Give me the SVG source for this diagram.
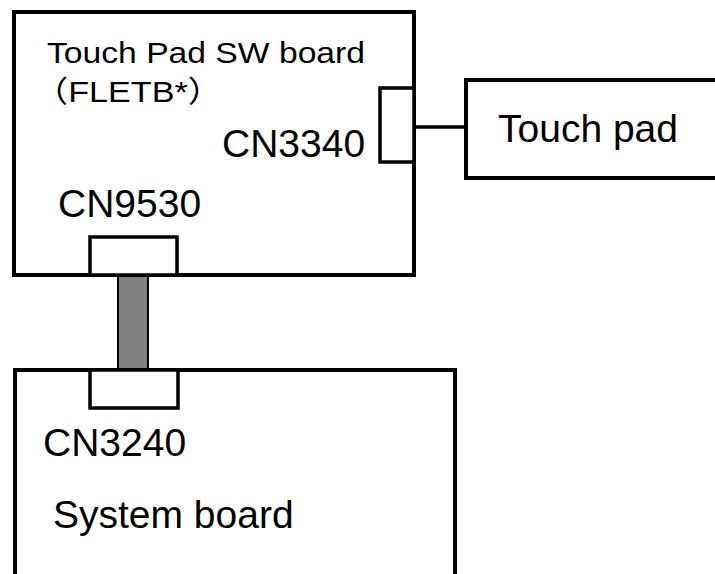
<svg xmlns="http://www.w3.org/2000/svg" width="715" height="574" viewBox="0 0 715 574">
<style>
.box{fill:#fff;stroke:#000;stroke-width:4}
.con{fill:#fff;stroke:#000;stroke-width:3.5}
.t{font-family:"Liberation Sans",Arial,"Noto Sans CJK JP",sans-serif;fill:#000}
</style>
<rect width="715" height="574" fill="#fff"/>
<g id="touchpad-sw-board">
<rect class="box" x="14" y="12" width="400" height="263"/>
<text class="t" x="47" y="63" font-size="30" textLength="318" lengthAdjust="spacingAndGlyphs">Touch Pad SW board</text>
<text class="t" x="34" y="102" font-size="30" textLength="188" lengthAdjust="spacingAndGlyphs">（FLETB*）</text>
</g>
<g id="cn3340">
<rect class="con" x="380" y="88" width="34" height="74"/>
<text class="t" x="222" y="157" font-size="39">CN3340</text>
</g>
<g id="cn9530">
<rect class="con" x="90" y="237" width="87" height="38"/>
<text class="t" x="58" y="217" font-size="39">CN9530</text>
</g>
<g id="touch-pad">
<rect class="box" x="466" y="80" width="260" height="98"/>
<text class="t" x="498" y="142" font-size="39">Touch pad</text>
</g>
<g id="system-board">
<rect class="box" x="15" y="370" width="440" height="220"/>
<text class="t" x="53" y="528" font-size="39">System board</text>
</g>
<g id="cn3240">
<rect class="con" x="90" y="370" width="88" height="38"/>
<text class="t" x="43" y="456" font-size="39">CN3240</text>
</g>
<g id="connectors">
<line x1="414" y1="127" x2="466" y2="127" stroke="#000" stroke-width="3.5"/>
<rect x="118" y="276" width="30" height="93" fill="#808080" stroke="#000" stroke-width="2"/>
</g>
</svg>
